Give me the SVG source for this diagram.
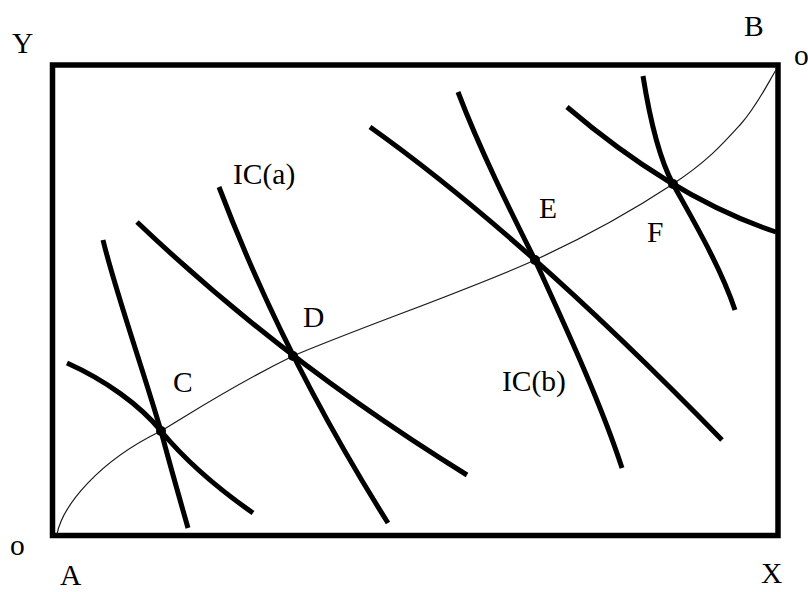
<svg xmlns="http://www.w3.org/2000/svg" width="808" height="592" viewBox="0 0 808 592">
  <style>
    .frame { fill: none; stroke: #000; stroke-width: 5.5; }
    .contract { fill: none; stroke: #1a1a1a; stroke-width: 1.2; }
    .ic { fill: none; stroke: #000; stroke-width: 5; stroke-linecap: butt; }
    .pt { fill: #000; }
    .lbl { font-family: "Liberation Serif", "Times New Roman", serif; font-size: 29.5px; fill: #000; }
  </style>

  <!-- Edgeworth box -->
  <g id="box">
    <rect class="frame" x="52.5" y="65" width="725.5" height="470.5"/>
  </g>

  <!-- contract curve and indifference curves -->
  <g id="connectors">
    <path id="contract-curve" class="contract"
      d="M57,534 C63,505 99,461 161,431 C195.2,410.5 232.7,385.5 293,356 C357.3,328.5 472,288.8 535,260 C598,231.2 638.8,206.5 673,184 C707.2,161.5 722.8,144 740,125 C757.2,106 770,79.2 776,70"/>

    <!-- through C -->
    <path class="ic" d="M67,363 C105,380 140,405 161,431 C185,460 220,490 253,513"/>
    <path class="ic" d="M103,240 C115,290 140,360 161,431 C170,465 180,500 188,528"/>

    <!-- through D -->
    <path class="ic" d="M137,222 Q284,362 467,475"/>
    <path class="ic" d="M219,187 Q283,356 388,523"/>

    <!-- through E -->
    <path class="ic" d="M370,127 Q524,236.5 722,440"/>
    <path class="ic" d="M458,92 C480,150 510,210 535,260 C560,315 600,400 622,468"/>

    <!-- through F -->
    <path class="ic" d="M567,107 Q674.5,198.5 776,232"/>
    <path class="ic" d="M643,76 C650,120 660,160 673,184 C690,215 720,265 735,310"/>
  </g>

  <!-- tangency points -->
  <g id="point-C"><circle class="pt" cx="161" cy="431" r="5"/><text class="lbl" x="173" y="392">C</text></g>
  <g id="point-D"><circle class="pt" cx="293" cy="356" r="5"/><text class="lbl" x="303" y="327">D</text></g>
  <g id="point-E"><circle class="pt" cx="535" cy="260" r="5"/><text class="lbl" x="539" y="218">E</text></g>
  <g id="point-F"><circle class="pt" cx="673" cy="184" r="5"/><text class="lbl" x="647" y="242">F</text></g>

  <!-- curve labels -->
  <g id="label-ica"><text class="lbl" x="233" y="184">IC(a)</text></g>
  <g id="label-icb"><text class="lbl" x="502" y="391">IC(b)</text></g>

  <!-- axis and corner labels -->
  <g id="label-Y"><text class="lbl" x="12" y="53">Y</text></g>
  <g id="label-B"><text class="lbl" x="744" y="36">B</text></g>
  <g id="origin-B"><text class="lbl" x="794" y="65">o</text></g>
  <g id="origin-A"><text class="lbl" x="10" y="555">o</text></g>
  <g id="label-A"><text class="lbl" x="60" y="585">A</text></g>
  <g id="label-X"><text class="lbl" x="761" y="583">X</text></g>
</svg>
